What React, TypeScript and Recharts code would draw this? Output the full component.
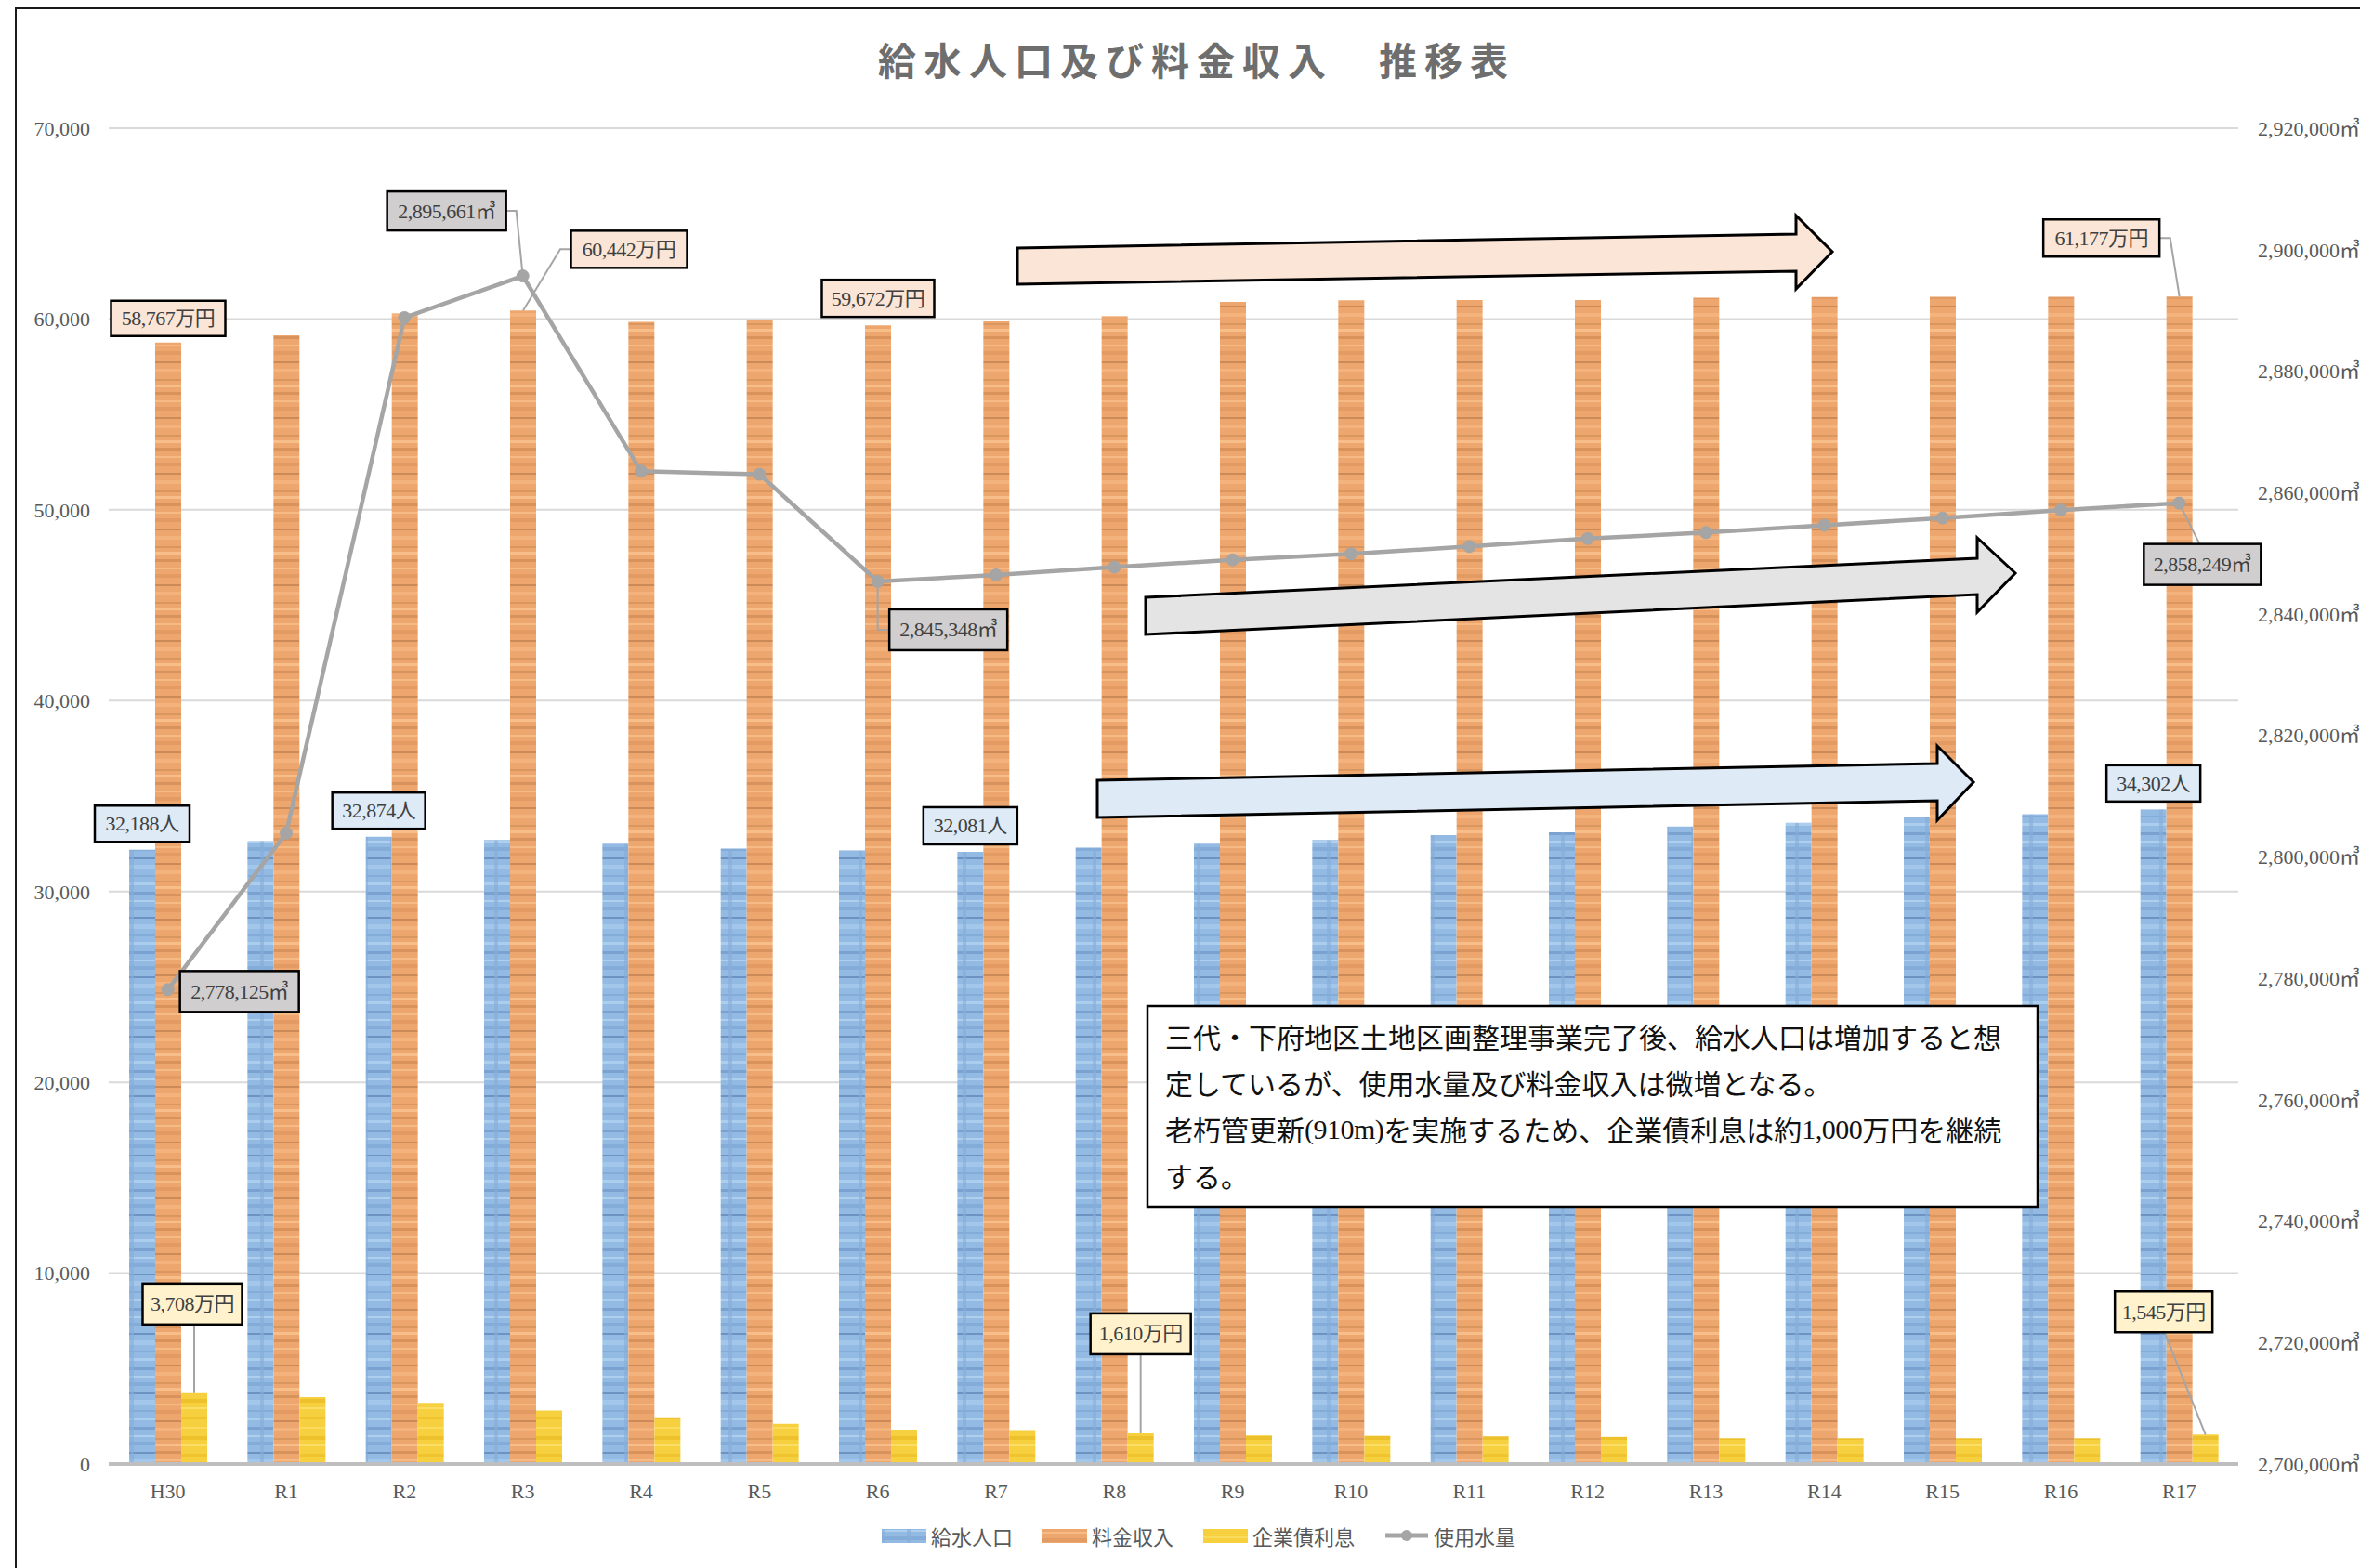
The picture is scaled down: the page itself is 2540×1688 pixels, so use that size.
import React from 'react';
import { ComposedChart, Bar, Line, XAxis, YAxis, CartesianGrid, LabelList } from 'recharts';

const categories = ['H30', 'R1', 'R2', 'R3', 'R4', 'R5', 'R6', 'R7', 'R8', 'R9', 'R10', 'R11', 'R12', 'R13', 'R14', 'R15', 'R16', 'R17'];
const population = [32188, 32650, 32874, 32700, 32500, 32250, 32150, 32081, 32300, 32500, 32700, 32950, 33100, 33400, 33600, 33900, 34050, 34302];
const revenue = [58767, 59150, 60300, 60442, 59850, 59950, 59672, 59880, 60150, 60900, 60980, 60990, 61000, 61120, 61150, 61160, 61170, 61177];
const interest = [3708, 3500, 3200, 2800, 2450, 2100, 1800, 1780, 1610, 1500, 1480, 1450, 1420, 1350, 1350, 1350, 1350, 1545];
const waterUsage = [2778125, 2803900, 2888800, 2895661, 2863500, 2863000, 2845348, 2846400, 2847700, 2848900, 2849900, 2851100, 2852400, 2853400, 2854600, 2855800, 2857100, 2858249];
const leftTicks = [0, 10000, 20000, 30000, 40000, 50000, 60000, 70000];
const rightTicks = [2700000, 2720000, 2740000, 2760000, 2780000, 2800000, 2820000, 2840000, 2860000, 2880000, 2900000, 2920000];
const seriesNames = ['給水人口', '料金収入', '企業債利息', '使用水量'];
const titleText = '給水人口及び料金収入　推移表';
const noteLines = [
  '三代・下府地区土地区画整理事業完了後、給水人口は増加すると想',
  '定しているが、使用水量及び料金収入は微増となる。',
  '老朽管更新(910m)を実施するため、企業債利息は約1,000万円を継続',
  'する。',
];

const data = categories.map((name, i) => ({
  name,
  pop: population[i],
  rev: revenue[i],
  int: interest[i],
  water: waterUsage[i],
}));

const NUM_FONT = '"Liberation Serif", "DejaVu Serif", "Noto Sans CJK JP", serif';
const JP_FONT = '"Noto Sans CJK JP", "Noto Sans", sans-serif';

type Spec = { dx: number; dy: number; w: number; h: number; leader?: number[][] };

const BOX = {
  rev: { fill: '#FBE5D6', unit: '万円' },
  pop: { fill: '#DEEBF7', unit: '人' },
  water: { fill: '#D0CECE', unit: '㎥' },
  int: { fill: '#FFF2CC', unit: '万円' },
};

const SPECS: Record<string, Record<number, Spec>> = {
  rev: {
    0: { dx: 0, dy: -26, w: 123, h: 38 },
    3: { dx: 114, dy: -66, w: 125, h: 40, leader: [[0, 0], [40, -66], [51, -66]] },
    6: { dx: 0, dy: -29, w: 121, h: 40 },
    17: { dx: -84, dy: -63, w: 125, h: 40, leader: [[0, 0], [-10, -63], [-22, -63]] },
  },
  pop: {
    0: { dx: 0, dy: -28, w: 102, h: 39 },
    2: { dx: 0, dy: -28, w: 100, h: 39 },
    7: { dx: 0, dy: -28, w: 101, h: 40 },
    17: { dx: 0, dy: -28, w: 101, h: 39 },
  },
  water: {
    0: { dx: 77, dy: 2, w: 128, h: 44 },
    3: { dx: -82, dy: -70, w: 128, h: 42, leader: [[0, 0], [-7, -70], [-18, -70]] },
    6: { dx: 76, dy: 52, w: 127, h: 44, leader: [[0, 0], [0, 52], [13, 52]] },
    17: { dx: 25, dy: 66, w: 126, h: 44, leader: [[0, 0], [22, 44]] },
  },
  int: {
    0: { dx: -2, dy: -96, w: 107, h: 44, leader: [[0, 0], [0, -74]] },
    8: { dx: 0, dy: -107, w: 108, h: 44, leader: [[0, 0], [0, -85]] },
    17: { dx: -45, dy: -132, w: 105, h: 44, leader: [[0, 0], [-44, -110]] },
  },
};

const makeLabel = (kind: 'rev' | 'pop' | 'water' | 'int') => (props: any) => {
  const index = props.index;
  const spec = SPECS[kind][index];
  if (!spec) return null;
  const vb = props.viewBox || {};
  const x = props.x ?? vb.x;
  const y = props.y ?? vb.y;
  const w = props.width ?? vb.width ?? 0;
  if (x == null || y == null) return null;
  const ax = kind === 'water' ? x : x + w / 2;
  const ay = y;
  const cx = ax + spec.dx;
  const cy = ay + spec.dy;
  const val = Number(props.value).toLocaleString('en-US') + BOX[kind].unit;
  return (
    <g key={`${kind}-${index}`}>
      {spec.leader && (
        <polyline
          points={spec.leader.map((p) => `${ax + p[0]},${ay + p[1]}`).join(' ')}
          fill="none"
          stroke="#A5A5A5"
          strokeWidth={2}
        />
      )}
      <rect x={cx - spec.w / 2} y={cy - spec.h / 2} width={spec.w} height={spec.h} fill={BOX[kind].fill} stroke="#000" strokeWidth={2.5} />
      <text x={cx} y={cy} textAnchor="middle" dominantBaseline="central" fontFamily={NUM_FONT} fontSize={22} fill="#404040" letterSpacing={-0.5}>
        {val}
      </text>
    </g>
  );
};

const Patterns = () => (
  <svg width={0} height={0} style={{ position: 'absolute' }}>
    <defs>
      <pattern id="patBlue" patternUnits="userSpaceOnUse" width={28} height={64}>
        <rect x={0} y={0} width={28} height={64} fill="#93BAE2" />
        <rect x={0} y={0} width={28} height={3} fill="#7AA2D0" />
        <rect x={0} y={9} width={28} height={2} fill="#AFCFEE" />
        <rect x={0} y={16} width={28} height={4} fill="#84ACD9" />
        <rect x={0} y={27} width={28} height={2} fill="#6C93C2" />
        <rect x={0} y={35} width={28} height={5} fill="#A3C7EA" />
        <rect x={0} y={46} width={28} height={2} fill="#84ACD9" />
        <rect x={0} y={54} width={28} height={3} fill="#ABCDEE" />
        <rect x={0} y={0} width={4} height={64} fill="#86AED9" opacity={0.6} />
      </pattern>
      <pattern id="patOrange" patternUnits="userSpaceOnUse" width={28} height={60}>
        <rect x={0} y={0} width={28} height={60} fill="#EDA76E" />
        <rect x={0} y={2} width={28} height={3} fill="#D8935C" />
        <rect x={0} y={11} width={28} height={2} fill="#F6BA85" />
        <rect x={0} y={18} width={28} height={4} fill="#E39B63" />
        <rect x={0} y={29} width={28} height={2} fill="#CB8A58" />
        <rect x={0} y={37} width={28} height={4} fill="#F4B37C" />
        <rect x={0} y={48} width={28} height={2} fill="#DA965F" />
        <rect x={0} y={54} width={28} height={3} fill="#F7BE8A" />
      </pattern>
      <pattern id="patYellow" patternUnits="userSpaceOnUse" width={28} height={40}>
        <rect x={0} y={0} width={28} height={40} fill="#F6D03E" />
        <rect x={0} y={5} width={28} height={3} fill="#EFC42E" />
        <rect x={0} y={16} width={28} height={2} fill="#FADB5C" />
        <rect x={0} y={26} width={28} height={4} fill="#EDC12B" />
        <rect x={0} y={35} width={28} height={2} fill="#FBDE66" />
      </pattern>
    </defs>
  </svg>
);

const renderNoteLine = (line: string) =>
  line.split(/([\x20-\x7E]+)/).filter((s) => s.length > 0).map((seg, j) =>
    /^[\x20-\x7E]+$/.test(seg) ? (
      <tspan key={j} fontFamily={NUM_FONT} letterSpacing={-0.5}>{seg}</tspan>
    ) : (
      <tspan key={j}>{seg}</tspan>
    )
  );

const Overlay = () => (
  <svg width={2540} height={1688} style={{ position: 'absolute', left: 0, top: 0, pointerEvents: 'none' }}>
    <polygon
      points="1095,267 1933,252 1933,232 1972,271 1933,311 1933,292 1095,306"
      fill="#FBE5D6"
      stroke="#000"
      strokeWidth={3}
    />
    <polygon
      points="1233,643 2128,601 2128,579 2169,617 2128,659 2128,640 1233,683"
      fill="#E4E4E4"
      stroke="#000"
      strokeWidth={3}
    />
    <polygon
      points="1181,840 2085,822 2085,803 2124,842 2085,883 2085,862 1181,880"
      fill="#DEEBF7"
      stroke="#000"
      strokeWidth={3}
    />
    <rect x={1235} y={1083} width={958} height={216} fill="#fff" stroke="#000" strokeWidth={2.5} />
    {noteLines.map((line, i) => (
      <text key={i} x={1254} y={1115 + i * 50} dominantBaseline="central" fontFamily={JP_FONT} fontSize={30} fill="#111">
        {renderNoteLine(line)}
      </text>
    ))}
  </svg>
);

const LegendBox = () => {
  const swatches = ['url(#patBlue)', 'url(#patOrange)', 'url(#patYellow)'];
  return (
    <div style={{ position: 'absolute', left: 948, top: 1637, display: 'flex', alignItems: 'center', fontFamily: JP_FONT, fontSize: 22, color: '#595959', whiteSpace: 'nowrap' }}>
      {seriesNames.map((n, i) => (
        <div key={n} style={{ display: 'flex', alignItems: 'center', marginRight: 31 }}>
          <svg width={50} height={30} style={{ marginRight: 4 }}>
            {i < 3 ? (
              <rect x={1} y={8} width={48} height={15} fill={swatches[i]} />
            ) : (
              <g>
                <line x1={2} y1={15} x2={48} y2={15} stroke="#A5A5A5" strokeWidth={5} />
                <circle cx={25} cy={15} r={6} fill="#A5A5A5" />
              </g>
            )}
          </svg>
          <span>{n}</span>
        </div>
      ))}
    </div>
  );
};

export default function App() {
  return (
    <div style={{ position: 'absolute', left: 0, top: 0, width: 2540, height: 1688, overflow: 'hidden', background: '#fff' }}>
      <Patterns />
      <div style={{ position: 'absolute', left: 16, top: 8, width: 2620, height: 1720, border: '2px solid #1a1a1a', boxSizing: 'border-box' }} />
      <div style={{ position: 'absolute', left: 0, top: 33, width: 2576, textAlign: 'center', fontFamily: JP_FONT, fontWeight: 700, fontSize: 41, letterSpacing: 8, color: '#6E6E6E' }}>
        {titleText}
      </div>
      <div style={{ position: 'absolute', left: 0, top: 0 }}>
        <ComposedChart width={2540} height={1688} data={data} margin={{ top: 138, right: 0, bottom: 52, left: 0 }} barGap={0} barSize={28}>
          <CartesianGrid yAxisId="left" vertical={false} stroke="#D9D9D9" strokeWidth={2} />
          <XAxis
            dataKey="name"
            height={60}
            tickLine={false}
            axisLine={{ stroke: '#BFBFBF', strokeWidth: 4 }}
            tick={{ fontFamily: NUM_FONT, fontSize: 22, fill: '#595959' }}
            tickMargin={15}
            interval={0}
          />
          <YAxis
            yAxisId="left"
            orientation="left"
            width={117}
            domain={[0, 70000]}
            ticks={leftTicks}
            tickLine={false}
            axisLine={false}
            tickMargin={14}
            tickFormatter={(v: number) => v.toLocaleString('en-US')}
            tick={{ fontFamily: NUM_FONT, fontSize: 22, fill: '#595959' }}
          />
          <YAxis
            yAxisId="right"
            orientation="right"
            width={131}
            domain={[2700000, 2920000]}
            ticks={rightTicks}
            tickLine={false}
            axisLine={false}
            tickMargin={15}
            tickFormatter={(v: number) => v.toLocaleString('en-US') + '㎥'}
            tick={{ fontFamily: NUM_FONT, fontSize: 22, fill: '#595959', textAnchor: 'start' }}
          />
          <Bar yAxisId="left" dataKey="pop" name={seriesNames[0]} fill="url(#patBlue)" isAnimationActive={false}>
            <LabelList dataKey="pop" content={makeLabel('pop')} />
          </Bar>
          <Bar yAxisId="left" dataKey="rev" name={seriesNames[1]} fill="url(#patOrange)" isAnimationActive={false}>
            <LabelList dataKey="rev" content={makeLabel('rev')} />
          </Bar>
          <Bar yAxisId="left" dataKey="int" name={seriesNames[2]} fill="url(#patYellow)" isAnimationActive={false}>
            <LabelList dataKey="int" content={makeLabel('int')} />
          </Bar>
          <Line
            yAxisId="right"
            dataKey="water"
            name={seriesNames[3]}
            stroke="#A5A5A5"
            strokeWidth={4.5}
            dot={{ r: 6.5, fill: '#A5A5A5', stroke: '#A5A5A5', strokeWidth: 1 }}
            isAnimationActive={false}
          >
            <LabelList dataKey="water" content={makeLabel('water')} />
          </Line>
        </ComposedChart>
      </div>
      <Overlay />
      <LegendBox />
    </div>
  );
}
